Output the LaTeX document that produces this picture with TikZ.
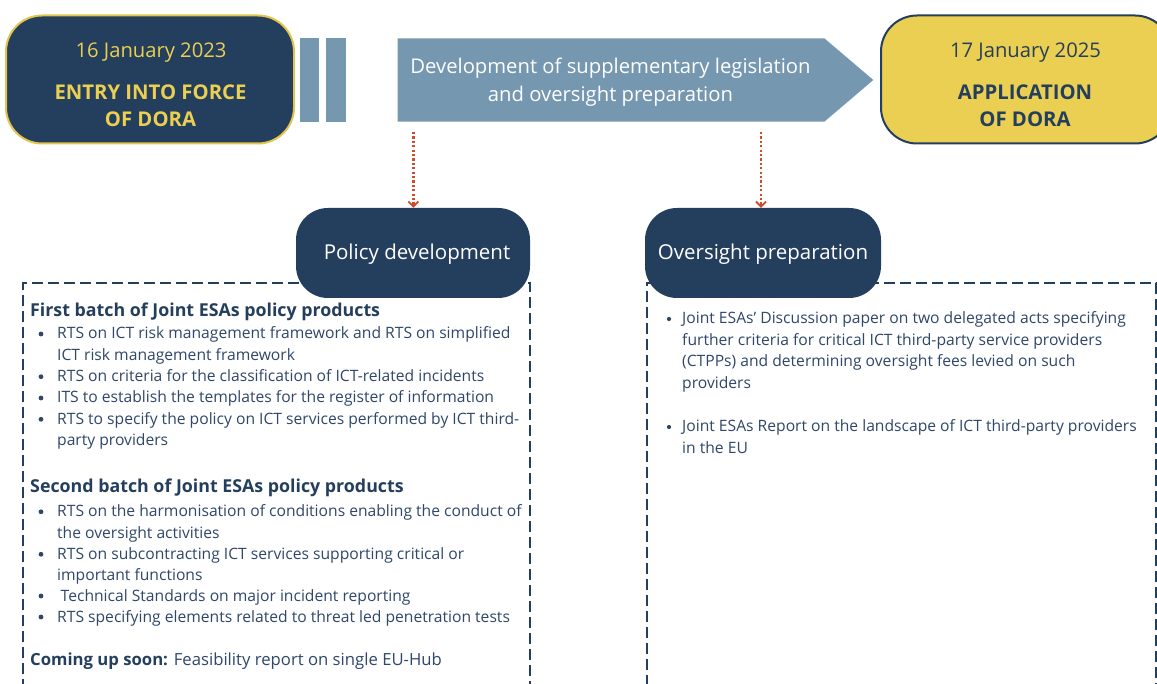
\documentclass[tikz,border=0pt]{standalone}
\usepackage{fontspec}
\setmainfont{Open Sans}
\usetikzlibrary{arrows.meta}
\definecolor{navy}{HTML}{243E5D}
\definecolor{gold}{HTML}{EBCF52}
\definecolor{goldline}{HTML}{E3C44C}
\definecolor{steel}{HTML}{7597AF}
\definecolor{rust}{HTML}{D04A2C}
\definecolor{txt}{HTML}{30476A}
\begin{document}
\begin{tikzpicture}[x=1pt,y=-1pt,
  datebox/.style={rounded corners=36pt, line width=2pt, minimum width=288pt, minimum height=128pt, inner sep=0},
  labelbox/.style={rounded corners=32pt, fill=navy, draw=none, text=white, minimum height=90pt, inner sep=0, text height=15pt, text depth=1pt, font=\fontsize{20.5}{24}\selectfont},
  dashbox/.style={draw=navy, line width=1.8pt, dash pattern=on 11pt off 5pt, anchor=north west, inner sep=0},
  datetxt/.style={anchor=base, inner sep=0, font=\fontsize{20.2}{25}\selectfont},
  titletxt/.style={anchor=base, inner sep=0, font=\fontsize{20.3}{27.4}\selectfont\bfseries},
  head/.style={anchor=base west, inner sep=0, text=navy, font=\fontsize{17.8}{21}\selectfont\bfseries},
  item/.style={anchor=base west, inner sep=0, text=txt, font=\fontsize{15.65}{21.4}\selectfont},
  dotarrow/.style={draw=rust, line width=2.4pt, dash pattern=on 2.2pt off 2.2pt, -{Straight Barb[length=5pt,width=10pt,line width=1.8pt]}},
  dot/.style={fill=txt},
]
\useasboundingbox (0,0) rectangle (1157,684);
\clip (0,0) rectangle (1157,684);
\fill[white] (0,0) rectangle (1157,684);

% --- top timeline ---
\node[datebox, fill=navy, draw=goldline] (start) at (150,79.5) {};
\node[datetxt, text=gold] (startdate) at (151,57.3) {16 January 2023};
\node[titletxt, text=gold] (starttitle) at (150.5,99.3) {\parbox[t]{260pt}{\centering ENTRY INTO FORCE\\OF DORA}};

\fill[steel] (300,38.3) rectangle (319.3,121.7);
\fill[steel] (326,38.3) rectangle (345.7,121.7);

\fill[steel] (397.5,38.3) -- (824.3,38.3) -- (873.3,80) -- (824.3,121.7) -- (397.5,121.7) -- cycle;
\node[anchor=base, inner sep=0, text=white, font=\fontsize{20.25}{28.4}\selectfont] (dev) at (610.5,73.3)
  {\parbox[t]{440pt}{\centering Development of supplementary legislation\\and oversight preparation}};

\node[datebox, fill=gold, draw=navy, minimum width=290pt] (end) at (1026,79.5) {};
\node[datetxt, text=navy] (enddate) at (1025.5,57.3) {17 January 2025};
\node[titletxt, text=navy] (endtitle) at (1025,99.3) {\parbox[t]{260pt}{\centering APPLICATION\\OF DORA}};

% --- dashed panels ---
\node[dashbox, minimum width=507pt, minimum height=430pt] (ppanel) at (22,282.5) {};
\node[dashbox, minimum width=509pt, minimum height=430pt] (opanel) at (646,282.5) {};

% --- section labels ---
\node[labelbox, minimum width=234pt] (policy) at (413,253) {\hspace*{8pt}Policy development};
\node[labelbox, minimum width=236pt] (oversight) at (763,253) {Oversight preparation};

% --- connectors ---
\coordinate (srcL) at (413.3,132);
\coordinate (srcR) at (761,132);
\draw[dotarrow] (srcL) -- (srcL |- policy.north);
\draw[dotarrow] (srcR) -- (srcR |- oversight.north);

% --- policy panel text ---
\node[head] (h1) at (30,316.5) {First batch of Joint ESAs policy products};
\node[item] (p1) at (57,339) {\parbox[t]{480pt}{RTS on ICT risk management framework and RTS on simplified\\ICT risk management framework}};
\node[item] (p2) at (57,381.7) {RTS on criteria for the classification of ICT-related incidents};
\node[item] (p3) at (57,403) {ITS to establish the templates for the register of information};
\node[item] (p4) at (57,424.3) {\parbox[t]{480pt}{RTS to specify the policy on ICT services performed by ICT third-\\party providers}};
\foreach \b in {339,381.7,403,424.3} \fill[dot] (41,\b-5) circle (2.4pt);

\node[head] (h2) at (30,492.3) {Second batch of Joint ESAs policy products};
\node[item] (q1) at (57,516.8) {\parbox[t]{480pt}{RTS on the harmonisation of conditions enabling the conduct of\\the oversight activities}};
\node[item] (q2) at (57,559.3) {\parbox[t]{480pt}{RTS on subcontracting ICT services supporting critical or\\important functions}};
\node[item] (q3) at (60.5,601) {Technical Standards on major incident reporting};
\node[item] (q4) at (57,622) {RTS specifying elements related to threat led penetration tests};
\foreach \b in {516.8,559.3,601,622} \fill[dot] (41,\b-5) circle (2.4pt);

\node[item, font=\fontsize{16.7}{21}\selectfont] (soon) at (30,665) {{\color{navy}\bfseries Coming up soon:} Feasibility report on single EU-Hub};

% --- oversight panel text ---
\node[item] (o1) at (682,324) {\parbox[t]{480pt}{Joint ESAs’ Discussion paper on two delegated acts specifying\\further criteria for critical ICT third-party service providers\\(CTPPs) and determining oversight fees levied on such\\providers}};
\node[item] (o2) at (682,432) {\parbox[t]{480pt}{Joint ESAs Report on the landscape of ICT third-party providers\\in the EU}};
\foreach \b in {324,432} \fill[dot] (669,\b-5) circle (2.1pt);
\end{tikzpicture}
\end{document}
